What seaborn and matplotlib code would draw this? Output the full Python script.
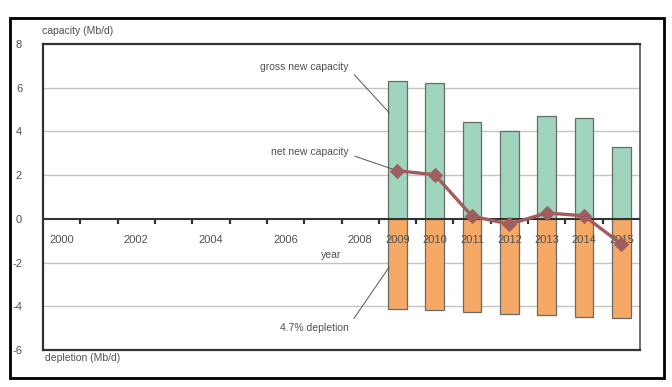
"""
plot.py

Gross new capacity vs depletion, 2000-2015.
"""

import matplotlib.pyplot as plt
import pandas as pd
import seaborn as sns
from matplotlib.patches import Rectangle

# ==========================================================
# Data
# ==========================================================

years = [str(y) for y in range(2000, 2016)]
year_labels = ["2000", "", "2002", "", "2004", "", "2006", "", "2008",
               "2009", "2010", "2011", "2012", "2013", "2014", "2015"]

proj_years = ["2009", "2010", "2011", "2012", "2013", "2014", "2015"]
gross_new = [6.3, 6.23, 4.44, 4.03, 4.72, 4.6, 3.3]
depletion = [-4.12, -4.17, -4.28, -4.34, -4.4, -4.5, -4.55]
net_new = [2.2, 2.02, 0.12, -0.24, 0.27, 0.14, -1.15]

y_ticks = [-6, -4, -2, 0, 2, 4, 6, 8]

GREEN = "#9fd5bc"
ORANGE = "#f5a964"
BROWN = "#a15c5e"
TEXT = "#505050"

# ==========================================================
# Figure
# ==========================================================

sns.set_style("white")
plt.rcParams["font.family"] = ["Liberation Sans", "DejaVu Sans"]

fig = plt.figure(figsize=(6.72, 3.87), dpi=100)
ax = fig.add_axes([43 / 672, 1 - 350 / 387, 597 / 672, 306 / 387])

df = pd.DataFrame({
    "year": proj_years,
    "gross": gross_new,
    "depletion": depletion,
})

for col, colour in [("gross", GREEN), ("depletion", ORANGE)]:
    sns.barplot(
        data=df,
        x="year",
        y=col,
        order=years,
        color=colour,
        width=0.5,
        edgecolor="#6a6a6a",
        linewidth=0.9,
        saturation=1,
        errorbar=None,
        ax=ax,
    )

net_pos = [years.index(y) for y in proj_years]
sns.lineplot(
    x=net_pos,
    y=net_new,
    color=BROWN,
    linewidth=2.4,
    marker="D",
    markersize=7,
    markeredgecolor=BROWN,
    ax=ax,
    zorder=5,
)

ax.set_xlim(-0.5, len(years) - 0.5)
ax.set_ylim(-6, 8)
ax.set_yticks(y_ticks)
ax.set_yticklabels([str(t) for t in y_ticks])
ax.set_xticks([])
ax.set_xlabel("")
ax.set_ylabel("")

for t in y_ticks:
    if t in (-6, 0, 8):
        continue
    ax.axhline(t, color="#c4c4c4", lw=1.0, zorder=0)

ax.axhline(0, color="#333333", lw=1.5, zorder=4)

# year ticks between categories, below the zero line
ax.vlines(
    [i + 0.5 for i in range(len(years) - 1)],
    -0.25, 0,
    color="#333333", lw=1.6, zorder=4,
)

for i, lab in enumerate(year_labels):
    ax.text(i, -0.95, lab, ha="center", va="center",
            fontsize=8, color=TEXT, zorder=3)

ax.text(0.482, 0.31, "year", transform=ax.transAxes,
        ha="center", va="center", fontsize=7.5, color=TEXT)

ax.tick_params(axis="y", length=3, width=1, color="#aaaaaa",
               pad=12, labelsize=8, labelcolor=TEXT)

for side in ["left", "top", "bottom"]:
    ax.spines[side].set_color("#333333")
    ax.spines[side].set_linewidth(1.6)
ax.spines["right"].set_color("#555555")
ax.spines["right"].set_linewidth(1.2)

# ==========================================================
# Annotations
# ==========================================================

line_kw = dict(arrowstyle="-", color="#555555", lw=0.7,
               shrinkA=2, shrinkB=0, relpos=(1.0, 0.3))

ax.annotate("gross new capacity", xy=(8.78, 4.85), xytext=(7.7, 6.95),
            ha="right", va="center", fontsize=7.5, color=TEXT,
            arrowprops=line_kw)
ax.annotate("net new capacity", xy=(9, net_new[0]), xytext=(7.7, 3.05),
            ha="right", va="center", fontsize=7.5, color=TEXT,
            arrowprops=line_kw)
ax.annotate("4.7% depletion", xy=(8.78, -2.2), xytext=(7.7, -4.98),
            ha="right", va="center", fontsize=7.5, color=TEXT,
            arrowprops=dict(line_kw, relpos=(1.0, 0.7)))

fig.text(42 / 672, 1 - 31 / 387, "capacity (Mb/d)", ha="left",
         va="center", fontsize=7.5, color=TEXT)
fig.text(45 / 672, 1 - 358 / 387, "depletion (Mb/d)", ha="left",
         va="center", fontsize=7.5, color=TEXT)

fig.patches.append(Rectangle(
    (10 / 672, 1 - 378 / 387), 654 / 672, 360 / 387,
    transform=fig.transFigure, fill=False, edgecolor="black", lw=2,
))

fig.savefig("out.png", dpi=100)
plt.close(fig)
